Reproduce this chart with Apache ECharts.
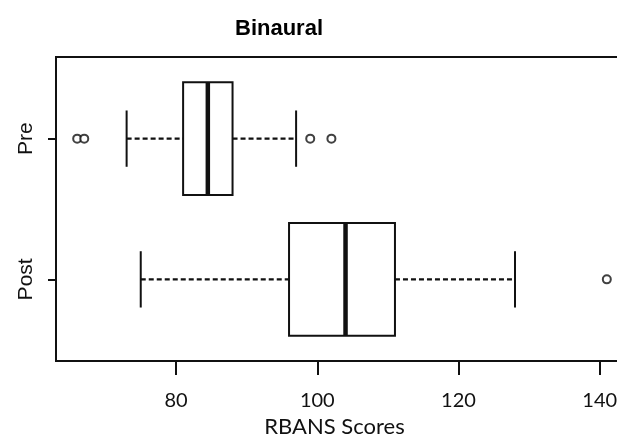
<!DOCTYPE html>
<html>
<head>
<meta charset="utf-8">
<script src="https://cdn.jsdelivr.net/npm/echarts@6/dist/echarts.min.js"></script>
<style>html,body{margin:0;padding:0;background:#fff}#c{width:617px;height:448px}</style>
</head>
<body>
<div id="c"></div>
<script>
// ---- data ----
var categories = ['Post', 'Pre'];          // y positions 1, 2
var lowerWhisker = [75, 73];
var lowerQuartile = [96, 81];
var medianValues = [104, 84.5];
var upperQuartile = [111, 88];
var upperWhisker = [128, 97];
var outliersPost = [141];
var outliersPre = [66, 67, 99, 102];
var xTicks = [80, 100, 120, 140];
var yTicks = [1, 2];

var boxData = categories.map(function (c, i) {
  return [i + 1, lowerWhisker[i], lowerQuartile[i], medianValues[i], upperQuartile[i], upperWhisker[i]];
});
var outlierData = [];
outliersPost.forEach(function (v) { outlierData.push([v, 1]); });
outliersPre.forEach(function (v) { outlierData.push([v, 2]); });

var INK = '#111';

function renderBox(params, api) {
  var y = api.value(0);
  var lo = api.value(1), q1 = api.value(2), md = api.value(3), q3 = api.value(4), hi = api.value(5);
  var half = 0.4, staple = 0.2;
  var pQ1top = api.coord([q1, y + half]);
  var pQ3bot = api.coord([q3, y - half]);
  var pMdTop = api.coord([md, y + half]);
  var pMdBot = api.coord([md, y - half]);
  var pLo = api.coord([lo, y]);
  var pHi = api.coord([hi, y]);
  var pQ1 = api.coord([q1, y]);
  var pQ3 = api.coord([q3, y]);
  var pLoT = api.coord([lo, y + staple]);
  var pLoB = api.coord([lo, y - staple]);
  var pHiT = api.coord([hi, y + staple]);
  var pHiB = api.coord([hi, y - staple]);
  var solid = { stroke: INK, lineWidth: 2, fill: null };
  var dashed = { stroke: INK, lineWidth: 2.2, lineDash: [5, 3] };
  return {
    type: 'group',
    children: [
      { type: 'line', shape: { x1: pLo[0], y1: pLo[1], x2: pQ1[0], y2: pQ1[1] }, style: dashed },
      { type: 'line', shape: { x1: pQ3[0], y1: pQ3[1], x2: pHi[0], y2: pHi[1] }, style: dashed },
      { type: 'line', shape: { x1: pLoT[0], y1: pLoT[1], x2: pLoB[0], y2: pLoB[1] }, style: solid },
      { type: 'line', shape: { x1: pHiT[0], y1: pHiT[1], x2: pHiB[0], y2: pHiB[1] }, style: solid },
      { type: 'rect', shape: { x: pQ1top[0], y: pQ1top[1], width: pQ3bot[0] - pQ1top[0], height: pQ3bot[1] - pQ1top[1] },
        style: { stroke: INK, lineWidth: 2, fill: '#fff' } },
      { type: 'line', shape: { x1: pMdTop[0], y1: pMdTop[1], x2: pMdBot[0], y2: pMdBot[1] }, style: { stroke: INK, lineWidth: 4.5 } }
    ]
  };
}

var chart = echarts.init(document.getElementById('c'), null, { renderer: 'canvas' });
chart.setOption({
  animation: false,
  backgroundColor: '#fff',
  title: {
    text: 'Binaural',
    left: 274,
    top: 13,
    textAlign: 'center',
    textStyle: { fontFamily: "'Liberation Sans', Arial", fontWeight: 'bold', fontSize: 22, color: '#000' }
  },
  grid: { left: 56, top: 57, width: 572, height: 304, outerBoundsMode: 'none', containLabel: false,
    show: true, borderColor: INK, borderWidth: 2, backgroundColor: 'transparent' },
  xAxis: {
    type: 'value', min: 63, max: 144,
    name: 'RBANS Scores', nameLocation: 'middle', nameGap: 42,
    nameTextStyle: { fontFamily: 'Lato', fontSize: 22, color: '#111', padding: [0, 15, 0, 0] },
    axisLine: { show: true, lineStyle: { color: INK, width: 2 } },
    axisTick: { show: true, customValues: xTicks, length: 14, lineStyle: { color: INK, width: 2 } },
    axisLabel: { customValues: xTicks, margin: 30, fontFamily: 'Lato', fontSize: 20, color: '#111' },
    splitLine: { show: false }
  },
  yAxis: {
    type: 'value', min: 0.42, max: 2.58,
    axisLine: { show: true, lineStyle: { color: INK, width: 2 } },
    axisTick: { show: true, customValues: yTicks, length: 8, lineStyle: { color: INK, width: 2 } },
    axisLabel: {
      customValues: yTicks, rotate: 90, margin: 19,
      fontFamily: "'Liberation Sans', Arial", fontSize: 21, color: '#111',
      formatter: function (v) { return categories[Math.round(v) - 1]; }
    },
    splitLine: { show: false }
  },
  series: [
    {
      type: 'custom', renderItem: renderBox, data: boxData,
      encode: { x: [1, 2, 3, 4, 5], y: 0 }, clip: false, silent: true
    },
    {
      type: 'scatter', data: outlierData, symbol: 'emptyCircle', symbolSize: 8,
      itemStyle: { color: INK, borderColor: INK, borderWidth: 2 }, silent: true
    }
  ]
});
</script>
</body>
</html>
